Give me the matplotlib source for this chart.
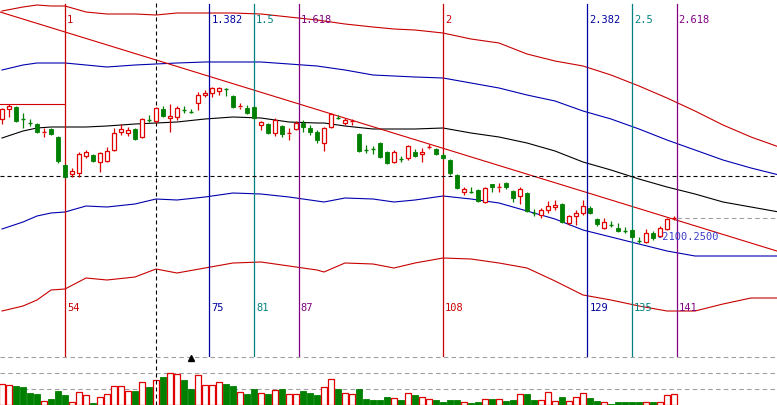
import numpy as np
import matplotlib
matplotlib.use('Agg')
from matplotlib import pyplot as plt

# bar numbers shown on screen
bars = np.arange(45, 142)

opens = [2218, 2228, 2230, 2219, 2215, 2213, 2204, 2208, 2200, 2172,
         2163, 2164, 2181, 2182, 2175, 2176, 2187, 2205, 2204, 2208,
         2200, 2218, 2216, 2228, 2219, 2220, 2228, 2226, 2234, 2242,
         2244, 2246, 2249, 2241, 2230, 2229, 2230, 2212, 2213, 2204,
         2211, 2203, 2208, 2214, 2209, 2205, 2194, 2210, 2220, 2214,
         2215, 2203, 2188, 2189, 2194, 2185, 2175, 2179, 2179, 2185,
         2183, 2189, 2188, 2182, 2177, 2162, 2145, 2146, 2147, 2135,
         2153, 2149, 2154, 2146, 2141, 2144, 2125, 2122, 2127, 2130,
         2133, 2114, 2121, 2124, 2129, 2118, 2109, 2113, 2109, 2107,
         2107, 2097, 2095, 2104, 2101, 2108, 2118]
highs = [2229, 2233, 2231, 2224, 2218, 2214, 2209, 2209, 2201, 2173,
         2169, 2185, 2187, 2183, 2185, 2190, 2209, 2213, 2210, 2209,
         2219, 2222, 2230, 2231, 2233, 2231, 2231, 2228, 2245, 2247,
         2250, 2250, 2249, 2242, 2234, 2232, 2231, 2216, 2214, 2219,
         2212, 2209, 2216, 2217, 2212, 2207, 2210, 2224, 2222, 2219,
         2218, 2204, 2192, 2191, 2195, 2186, 2187, 2181, 2192, 2188,
         2189, 2193, 2189, 2184, 2178, 2163, 2150, 2150, 2148, 2150,
         2153, 2154, 2155, 2147, 2150, 2145, 2128, 2129, 2136, 2137,
         2134, 2122, 2127, 2137, 2131, 2119, 2119, 2116, 2114, 2110,
         2108, 2100, 2108, 2106, 2111, 2119, 2121]
lows = [2213, 2220, 2215, 2209, 2211, 2204, 2200, 2202, 2174, 2159,
        2160, 2160, 2179, 2175, 2165, 2175, 2186, 2202, 2201, 2197,
        2199, 2215, 2214, 2220, 2205, 2217, 2224, 2224, 2227, 2240,
        2240, 2242, 2241, 2229, 2228, 2223, 2218, 2207, 2203, 2201,
        2200, 2197, 2207, 2205, 2202, 2194, 2186, 2209, 2218, 2212,
        2212, 2185, 2184, 2183, 2179, 2173, 2174, 2175, 2177, 2180,
        2175, 2188, 2182, 2178, 2162, 2148, 2142, 2144, 2135, 2134,
        2145, 2145, 2148, 2135, 2133, 2125, 2121, 2119, 2124, 2127,
        2114, 2112, 2112, 2122, 2123, 2111, 2108, 2110, 2105, 2104,
        2099, 2094, 2094, 2097, 2100, 2107, 2117]
closes = [2228, 2231, 2216, 2218, 2214, 2205, 2205, 2203, 2176, 2160,
          2166, 2183, 2185, 2176, 2184, 2186, 2204, 2208, 2207, 2198,
          2218, 2217, 2229, 2221, 2221, 2229, 2227, 2225, 2242, 2244,
          2249, 2249, 2248, 2230, 2231, 2224, 2219, 2215, 2204, 2217,
          2203, 2204, 2214, 2210, 2205, 2197, 2209, 2223, 2219, 2217,
          2216, 2186, 2187, 2188, 2180, 2174, 2185, 2178, 2191, 2181,
          2185, 2190, 2183, 2179, 2164, 2149, 2148, 2145, 2136, 2149,
          2150, 2150, 2150, 2139, 2148, 2126, 2124, 2127, 2131, 2132,
          2115, 2121, 2124, 2131, 2124, 2113, 2115, 2112, 2106, 2106,
          2100, 2096, 2104, 2099, 2109, 2118, 2119]
volumes = [2100, 2000, 1900, 1800, 1200, 1100, 400, 600, 1400, 1000,
           300, 1300, 1000, 200, 800, 1100, 1900, 1900, 1400, 1400,
           2300, 1800, 2500, 2800, 3200, 3100, 2500, 1600, 3000, 2000,
           2000, 2300, 2100, 1900, 1300, 1100, 1600, 1200, 1100, 1500,
           1600, 1100, 1100, 1400, 1200, 1000, 1800, 2600, 1600, 1200,
           1100, 1600, 600, 500, 500, 800, 700, 500, 1200, 1000,
           800, 600, 500, 300, 500, 500, 300, 200, 300, 600,
           600, 600, 400, 500, 1100, 1100, 500, 500, 1300, 400,
           800, 400, 800, 1200, 700, 400, 300, 100, 300, 300,
           300, 300, 300, 300, 300, 1000, 1100]

# channel lines sampled along the bars
band_bars = [45, 48, 50, 52, 54, 57, 60, 64, 67, 70, 74, 78, 82, 86, 90, 91, 94,
             98, 101, 104, 108, 112, 116, 120, 124, 128, 132, 136, 140, 144,
             148, 152, 156]
upper_red = [2326, 2330, 2332, 2331, 2331, 2325, 2323, 2323, 2322, 2324, 2324,
             2324, 2323, 2320, 2317, 2316, 2313, 2310, 2308, 2307, 2304, 2298,
             2294, 2283, 2276, 2271, 2262, 2251, 2239, 2226, 2212, 2200, 2190]
upper_blue = [2267, 2272, 2274, 2274, 2274, 2272, 2270, 2272, 2273, 2274, 2275,
              2275, 2275, 2273, 2271, 2270, 2267, 2262, 2261, 2260, 2259, 2254,
              2249, 2242, 2236, 2226, 2218, 2208, 2197, 2187, 2177, 2169, 2162]
mid_line = [2199, 2206, 2209, 2210, 2210, 2210, 2211, 2213, 2214, 2215, 2218,
            2220, 2219, 2215, 2214, 2214, 2211, 2208, 2208, 2208, 2209, 2204,
            2200, 2194, 2186, 2175, 2167, 2158, 2150, 2143, 2135, 2130, 2125]
lower_blue = [2108, 2115, 2121, 2124, 2125, 2131, 2130, 2133, 2138, 2137, 2140,
              2144, 2143, 2140, 2136, 2135, 2139, 2138, 2135, 2137, 2141, 2138,
              2134, 2126, 2118, 2107, 2100, 2093, 2086, 2081, 2081, 2081, 2081]
lower_red = [2026, 2031, 2037, 2047, 2048, 2059, 2057, 2060, 2068, 2064, 2069,
             2074, 2075, 2071, 2067, 2065, 2074, 2073, 2069, 2074, 2079, 2078,
             2074, 2069, 2056, 2042, 2037, 2031, 2026, 2026, 2033, 2039, 2039]

# fibonacci time zones from bar 0 with a 54 bar base
fib_base = 54
fib_ratios = ['1', '1.382', '1.5', '1.618', '2', '2.382', '2.5', '2.618']
fib_colors = ['#c80000', '#0000a0', '#008080', '#800080',
              '#c80000', '#0000a0', '#008080', '#800080']

trend_pts = [(45, 2324.4), (155, 2087.5)]
cross_bar, cross_price = 67, 2161
level_price, level_end = 2233, 54
last_price = 2119
mark_price = 2100.25

RED = '#e00000'
GREEN = '#008000'

fig = plt.figure(figsize=(7.77, 4.05), dpi=100)
ax = fig.add_axes([0, 48 / 405, 1, 357 / 405])
axv = fig.add_axes([0, 0, 1, 48 / 405])
xlim = (54 - 65 / 7, 54 + 712 / 7)
for a in (ax, axv):
    a.set_xlim(*xlim)
    a.axis('off')
ax.set_ylim(1980, 2337)
axv.set_ylim(20, 4800)

# channels
ax.plot(band_bars, upper_red, color='#c80000', lw=0.8, zorder=2)
ax.plot(band_bars, lower_red, color='#c80000', lw=0.8, zorder=2)
ax.plot(band_bars, upper_blue, color='#0000b0', lw=0.8, zorder=2)
ax.plot(band_bars, lower_blue, color='#0000b0', lw=0.8, zorder=2)
ax.plot(band_bars, mid_line, color='black', lw=0.8, zorder=2)

ax.axline(trend_pts[0], trend_pts[1], color='#d00000', lw=0.8, zorder=2)
ax.plot([xlim[0], level_end], [level_price, level_price], color='#d00000', lw=0.8, zorder=2)

# fib time lines with labels
for r, col in zip(fib_ratios, fib_colors):
    xb = float(r) * fib_base
    ax.plot([xb, xb], [1980, 2333], color=col, lw=0.9, zorder=2)
    ax.text(xb + 0.3, 2317, r, color=col, fontsize=7.5, family='DejaVu Sans Mono',
            ha='left', va='center', zorder=4)
    ax.text(xb + 0.3, 2029, str(int(round(xb))), color=col, fontsize=7.5,
            family='DejaVu Sans Mono', ha='left', va='center', zorder=4)

# crosshair
ax.axhline(cross_price, color='black', lw=0.8, dashes=(3.6, 2.7), zorder=2)
ax.axvline(cross_bar, color='black', lw=0.8, dashes=(3.6, 2.7), zorder=2)
axv.axvline(cross_bar, color='black', lw=0.8, dashes=(3.6, 2.7), zorder=4)

# last price line
ax.plot([141.4, xlim[1]], [last_price, last_price], color='#a0a0a0', lw=0.8,
        dashes=(4, 3), zorder=2)

# candles
o = np.array(opens, float)
h = np.array(highs, float)
l = np.array(lows, float)
c = np.array(closes, float)
up = c >= o
lo_b = np.minimum(o, c)
hi_b = np.maximum(o, c)
thin = (hi_b - lo_b) < 1.5
w = 0.7

dn = ~up
ax.vlines(bars[dn], l[dn], h[dn], color=GREEN, lw=0.9, zorder=3)
ax.vlines(bars[up], hi_b[up], h[up], color=RED, lw=0.9, zorder=3)
ax.vlines(bars[up], l[up], lo_b[up], color=RED, lw=0.9, zorder=3)

m = dn & ~thin
ax.bar(bars[m], (hi_b - lo_b)[m], bottom=lo_b[m], width=w, color=GREEN,
       edgecolor=GREEN, lw=0.6, zorder=4)
m = up & ~thin
ax.bar(bars[m], (hi_b - lo_b)[m], bottom=lo_b[m], width=w, facecolor='white',
       edgecolor=RED, lw=0.9, zorder=4)
for cond, col in ((dn & thin, GREEN), (up & thin, RED)):
    ax.hlines(c[cond], bars[cond] - w / 2, bars[cond] + w / 2, color=col, lw=1.0, zorder=4)

ax.text(138.4, mark_price, '-2100.2500', color='#3c3cc8', fontsize=7.5,
        family='DejaVu Sans Mono', ha='left', va='center', zorder=5)

# volume
v = np.array(volumes, float)
axv.bar(bars[dn], v[dn], width=0.8, color=GREEN, edgecolor=GREEN, lw=0.6, zorder=3)
axv.bar(bars[up], v[up], width=0.8, facecolor='white', edgecolor=RED, lw=0.9, zorder=3)
for lev in (1600, 3200, 4800):
    axv.axhline(lev, color='#a0a0a0', lw=0.8, dashes=(4, 3), zorder=1, clip_on=False)
axv.plot([72], [4700], marker='^', color='black', ms=4, zorder=5, clip_on=False)

fig.savefig('out.png', dpi=100, facecolor='white')
